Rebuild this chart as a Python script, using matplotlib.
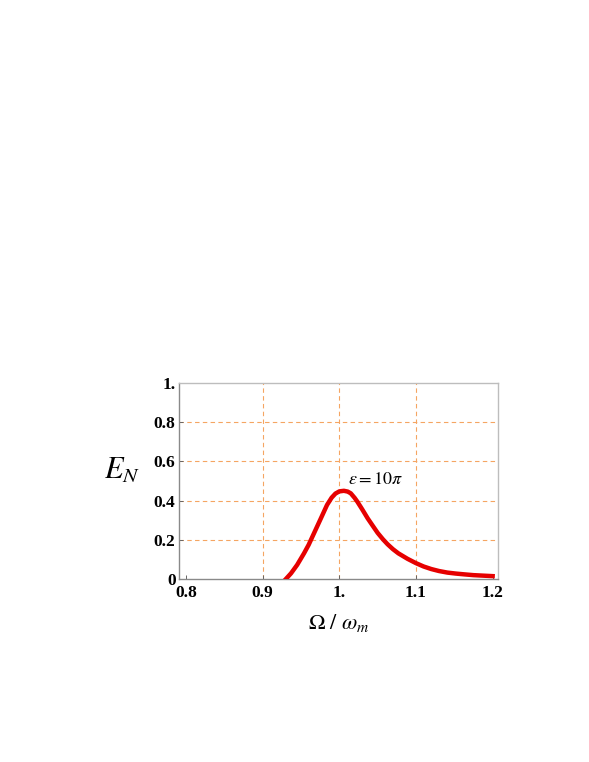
import numpy as np
import matplotlib.pyplot as plt

plt.rcParams['font.family'] = ['Liberation Serif', 'DejaVu Serif']
plt.rcParams['mathtext.fontset'] = 'stix'

# values
omega = [0.930, 0.937, 0.945, 0.954, 0.960, 0.967, 0.976, 0.984, 0.990,
         0.995, 1.000, 1.006, 1.011, 1.015, 1.020, 1.0235, 1.030, 1.037,
         1.044, 1.050, 1.057, 1.063, 1.070, 1.077, 1.089, 1.100, 1.110,
         1.120, 1.130, 1.141, 1.152, 1.163, 1.175, 1.185, 1.200]
en = [0.0, 0.03, 0.073, 0.132, 0.175, 0.234, 0.31, 0.378, 0.415,
      0.436, 0.447, 0.450, 0.446, 0.437, 0.414, 0.395, 0.355, 0.31,
      0.27, 0.236, 0.203, 0.178, 0.153, 0.132, 0.104, 0.082, 0.065,
      0.052, 0.042, 0.034, 0.029, 0.025, 0.021, 0.019, 0.016]

xticks = [0.8, 0.9, 1.0, 1.1, 1.2]
xlabels = ['0.8', '0.9', '1.', '1.1', '1.2']
yticks = [0, 0.2, 0.4, 0.6, 0.8, 1.0]
ylabels = ['0', '0.2', '0.4', '0.6', '0.8', '1.']

fig = plt.figure(figsize=(5.89, 7.62), dpi=100)
ax = fig.add_axes([0.304, 0.2398, 0.5415, 0.258])

# dashed grid only at the inner ticks
for xv in xticks[1:-1]:
    ax.axvline(xv, color='#f5a562', ls=(0, (4, 3)), lw=0.8, zorder=1)
for yv in yticks[1:-1]:
    ax.axhline(yv, color='#f5a562', ls=(0, (4, 3)), lw=0.8, zorder=1)

ax.plot(omega, en, color='#e60000', lw=3.2, solid_joinstyle='round', zorder=3)

ax.set_xlim(0.791, 1.207)
ax.set_ylim(0, 1.0)
ax.set_xticks(xticks)
ax.set_xticklabels(xlabels)
ax.set_yticks(yticks)
ax.set_yticklabels(ylabels)
ax.tick_params(direction='in', length=3, width=0.7, color='#666666',
               labelsize=12.5)
ax.tick_params(axis='y', pad=2.5)
ax.tick_params(axis='x', pad=4)
for lab in ax.get_xticklabels() + ax.get_yticklabels():
    lab.set_fontweight('bold')

for side in ['left', 'bottom']:
    ax.spines[side].set_color('#8a8a8a')
for side in ['top', 'right']:
    ax.spines[side].set_color('#bdbdbd')
for s in ax.spines.values():
    s.set_linewidth(1.0)

ax.text(1.047, 0.51, r'$\varepsilon=10\pi$', fontsize=13, ha='center', va='center')
ax.set_xlabel(r'$\Omega\ /\ \omega_m$', fontsize=16, labelpad=8)
fig.text(0.208, 0.381, r'$E_N$', fontsize=22, ha='center', va='center')

fig.savefig('out.png', dpi=100)
